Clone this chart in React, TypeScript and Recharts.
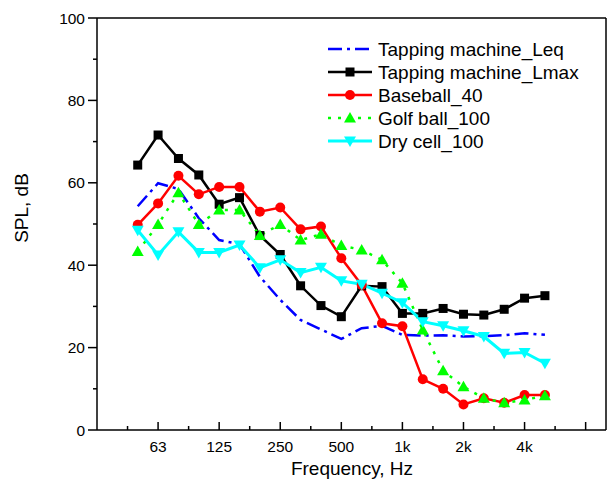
import React from "react";
import {
  LineChart,
  Line,
  XAxis,
  YAxis,
  ReferenceLine,
} from "recharts";

// 1/3-octave bands, 50 Hz .. 5 kHz (x = band index, 63 Hz = 2)
const bands = [
  "50", "63", "80", "100", "125", "160", "200", "250", "315", "400", "500",
  "630", "800", "1k", "1.25k", "1.6k", "2k", "2.5k", "3.15k", "4k", "5k",
];
const octaveLabels = ["63", "125", "250", "500", "1k", "2k", "4k", ""];

const leq = [54.3, 59.9, 58.5, 51.4, 46.1, 45.1, 37.2, 31.6, 26.7, 24.4, 22.1, 24.7, 25.3, 23.1, 22.9, 23.0, 22.7, 22.8, 23.0, 23.5, 23.1];
const lmax = [64.3, 71.6, 65.9, 61.9, 54.8, 56.4, 47.2, 42.6, 35.0, 30.2, 27.5, 35.0, 34.8, 28.3, 28.3, 29.5, 28.1, 27.9, 29.3, 32.0, 32.6];
const baseball = [49.8, 55.0, 61.7, 57.2, 59.0, 59.0, 53.0, 54.0, 48.7, 49.4, 41.7, 35.2, 25.9, 25.2, 12.3, 10.0, 6.2, 7.7, 6.6, 8.5, 8.5];
const golf = [43.3, 49.9, 57.6, 49.9, 53.4, 53.4, 47.2, 49.9, 46.1, 47.5, 44.8, 43.7, 41.3, 35.6, 24.3, 14.4, 10.5, 7.7, 6.6, 7.3, 8.3];
const dryCell = [48.5, 42.5, 48.1, 43.1, 43.1, 44.9, 39.4, 41.3, 38.2, 39.5, 36.2, 35.4, 33.2, 30.9, 26.3, 25.3, 24.1, 22.7, 18.6, 18.8, 16.2];

const data = bands.map((band, i) => ({
  x: i + 1,
  band,
  leq: leq[i],
  lmax: lmax[i],
  baseball: baseball[i],
  golf: golf[i],
  dryCell: dryCell[i],
}));

// half-octave ticks, majors on the octave bands
const xTicks: number[] = [];
for (let k = 0; k < octaveLabels.length; k++) {
  xTicks.push(2 + 3 * k - 1.5, 2 + 3 * k);
}
const yTicks = [0, 10, 20, 30, 40, 50, 60, 70, 80, 90, 100];

const FONT = "'Liberation Sans', Arial, sans-serif";

type Shape = "none" | "square" | "circle" | "up" | "down";

const drawMarker = (shape: Shape, cx: number, cy: number, color: string, key?: string | number) => {
  if (shape === "square")
    return <rect key={key} x={cx - 4.5} y={cy - 4.5} width={9} height={9} fill={color} />;
  if (shape === "circle") return <circle key={key} cx={cx} cy={cy} r={5} fill={color} />;
  if (shape === "up")
    return <path key={key} d={`M${cx},${cy - 6} L${cx + 6},${cy + 4.5} L${cx - 6},${cy + 4.5}Z`} fill={color} />;
  if (shape === "down")
    return <path key={key} d={`M${cx - 6},${cy - 4.5} L${cx + 6},${cy - 4.5} L${cx},${cy + 6}Z`} fill={color} />;
  return null;
};

const series: { key: string; name: string; color: string; dash?: string; width: number; shape: Shape }[] = [
  { key: "leq", name: "Tapping machine_Leq", color: "#0000ff", dash: "14 5 3 5", width: 2.5, shape: "none" },
  { key: "lmax", name: "Tapping machine_Lmax", color: "#000000", width: 2.5, shape: "square" },
  { key: "baseball", name: "Baseball_40", color: "#ff0000", width: 2.5, shape: "circle" },
  { key: "golf", name: "Golf ball_100", color: "#00ff00", dash: "3 7", width: 2.5, shape: "up" },
  { key: "dryCell", name: "Dry cell_100", color: "#00ffff", width: 3, shape: "down" },
];

const XTick = (props: any) => {
  const { x, y, payload } = props;
  const v = payload.value;
  const major = Number.isInteger(v);
  const label = major ? octaveLabels[(v - 2) / 3] : "";
  return (
    <g>
      <line x1={x} x2={x} y1={y} y2={y - (major ? 8 : 4)} stroke="#000" strokeWidth={1.5} />
      {label && (
        <text x={x} y={y + 22} textAnchor="middle" fontSize={15.5} fontFamily={FONT} fill="#000">
          {label}
        </text>
      )}
    </g>
  );
};

const YTick = (props: any) => {
  const { x, y, payload } = props;
  const major = payload.value % 20 === 0;
  return (
    <g>
      <line x1={x} x2={x - (major ? 9 : 4)} y1={y} y2={y} stroke="#000" strokeWidth={1.5} />
      {major && (
        <text x={x - 12} y={y + 5.5} textAnchor="end" fontSize={15.5} fontFamily={FONT} fill="#000">
          {payload.value}
        </text>
      )}
    </g>
  );
};

const LegendBox = ({ left, top }: { left: number; top: number }) => (
  <g transform={`translate(${left},${top})`}>
    {series.map((s, i) => {
      const cy = 12 + i * 23;
      return (
        <g key={s.key}>
          <line x1={0} x2={44} y1={cy} y2={cy} stroke={s.color} strokeWidth={s.width} strokeDasharray={s.dash} />
          {drawMarker(s.shape, 22, cy, s.color)}
          <text x={50} y={cy + 7} fontSize={19} fontFamily={FONT} fill="#000">
            {s.name}
          </text>
        </g>
      );
    })}
  </g>
);

export default function App() {
  return (
    <div style={{ position: "absolute", left: 0, top: 0, width: 609, height: 488, background: "#fff" }}>
      <LineChart
        width={609}
        height={488}
        data={data}
        margin={{ top: 18, right: 3, bottom: 0, left: 0 }}
      >
        <XAxis
          type="number"
          dataKey="x"
          domain={[-1, 24]}
          ticks={xTicks}
          interval={0}
          height={58}
          tickSize={0}
          tickMargin={0}
          tick={<XTick />}
          axisLine={{ stroke: "#000", strokeWidth: 1.5 }}
          allowDataOverflow
        />
        <YAxis
          type="number"
          domain={[0, 100]}
          ticks={yTicks}
          interval={0}
          width={97}
          tickSize={0}
          tickMargin={0}
          tick={<YTick />}
          axisLine={{ stroke: "#000", strokeWidth: 1.5 }}
        />
        <ReferenceLine y={100} stroke="#000" strokeWidth={1.5} />
        <ReferenceLine x={24} stroke="#000" strokeWidth={1.5} />
        {series.map((s) => (
          <Line
            key={s.key}
            type="linear"
            dataKey={s.key}
            name={s.name}
            stroke={s.color}
            strokeWidth={s.width}
            strokeDasharray={s.dash}
            dot={
              s.shape === "none"
                ? false
                : (p: any) => drawMarker(s.shape, p.cx, p.cy, s.color, `${s.key}-${p.index}`)
            }
            activeDot={false}
            isAnimationActive={false}
          />
        ))}
        <LegendBox left={328} top={37} />
        <text
          x={352}
          y={475}
          textAnchor="middle"
          fontSize={19}
          fontFamily={FONT}
          fill="#000"
        >
          Frequency, Hz
        </text>
        <text
          x={28}
          y={208}
          textAnchor="middle"
          fontSize={19}
          fontFamily={FONT}
          fill="#000"
          transform="rotate(-90 28 208)"
        >
          SPL, dB
        </text>
      </LineChart>
    </div>
  );
}
